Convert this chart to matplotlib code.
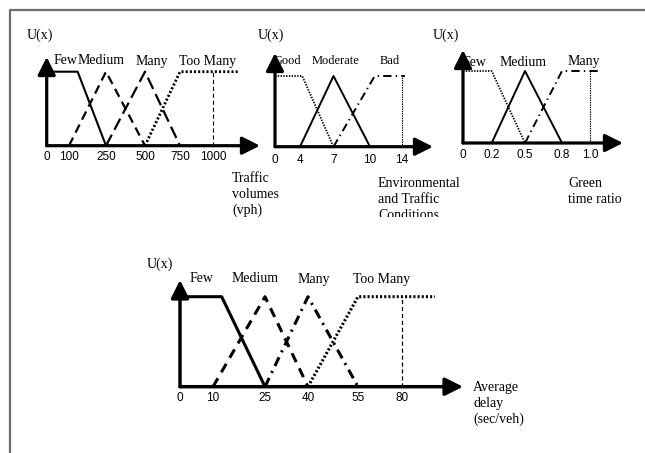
import numpy as np
import matplotlib
matplotlib.use('Agg')
import matplotlib.pyplot as plt
from matplotlib.patches import Rectangle

# ---- data ----
vol_ticks = [0, 100, 250, 500, 750, 1000]
vol_tick_labels = ['0', '100', '250', '500', '750', '1000']
vol_sets = ['Few', 'Medium', 'Many', 'Too Many']
vol_x = [[0, 135, 250], [100, 250, 500], [250, 500, 750], [500, 750, 1200]]
vol_u = [[1, 1, 0], [0, 1, 0], [0, 1, 0], [0, 1, 1]]
vol_limit = 1000
vol_title = 'Traffic\nvolumes\n(vph)'

env_ticks = [0, 4, 7, 10, 14]
env_tick_labels = ['0', '4', '7', '10', '14']
env_sets = ['Good', 'Moderate', 'Bad']
env_x = [[0, 4.2, 7], [4, 7, 10], [7, 10.6, 14.4]]
env_u = [[1, 1, 0], [0, 1, 0], [0, 1, 1]]
env_limit = 14
env_title = 'Environmental\nand Traffic\nConditions'

gtr_ticks = [0, 0.2, 0.5, 0.8, 1.0]
gtr_tick_labels = ['0', '0.2', '0.5', '0.8', '1.0']
gtr_sets = ['Few', 'Medium', 'Many']
gtr_x = [[0, 0.2, 0.5], [0.2, 0.5, 0.8], [0.5, 0.8, 1.07]]
gtr_u = [[1, 1, 0], [0, 1, 0], [0, 1, 1]]
gtr_limit = 1.0
gtr_title = 'Green\ntime ratio'

delay_ticks = [0, 10, 25, 40, 55, 80]
delay_tick_labels = ['0', '10', '25', '40', '55', '80']
delay_sets = ['Few', 'Medium', 'Many', 'Too Many']
delay_x = [[0, 12.5, 25], [10, 25, 40], [25, 40, 55], [40, 55, 99]]
delay_u = [[1, 1, 0], [0, 1, 0], [0, 1, 0], [0, 1, 1]]
delay_limit = 80
delay_title = 'Average\ndelay\n(sec/veh)'

# ---- layout ----
W, H = 645, 453
plt.rcParams['lines.scale_dashes'] = False
SERIF = 'Liberation Serif'
SANS = 'Liberation Sans'

fig = plt.figure(figsize=(W / 100, H / 100), dpi=100)
bg = fig.add_axes([0, 0, 1, 1])
bg.set_xlim(0, W)
bg.set_ylim(H, 0)
bg.axis('off')
bg.plot([10, 10, W], [H, 10, 10], color='#6d6d6d', lw=1.6)


def piecewise(vals, px):
    vals = np.asarray(vals, float)
    px = np.asarray(px, float)

    def mk(a, b):
        def f(x):
            x = np.asarray(x, float)
            y = np.interp(x, a, b)
            y = np.where(x > a[-1], b[-1] + (x - a[-1]) * (b[-1] - b[-2]) / (a[-1] - a[-2]), y)
            y = np.where(x < a[0], b[0] + (x - a[0]) * (b[1] - b[0]) / (a[1] - a[0]), y)
            return y
        return f
    return mk(vals, px), mk(px, vals)


def panel(ticks, labels, tick_px, x0, xtip, ybase, ytop, yplat,
          xs, us, styles, limit, limit_style, axis_lw, pad):
    fwd, inv = piecewise(ticks, tick_px)
    ax = fig.add_axes([x0 / W, 1 - ybase / H, (xtip - x0) / W, (ybase - ytop) / H])
    ax.set_xscale('function', functions=(fwd, inv))
    ax.set_xlim(float(inv(x0)), float(inv(xtip)))
    ax.set_ylim(0, (ybase - ytop) / (ybase - yplat))
    for x, u, (lw, dash) in zip(xs, us, styles):
        line, = ax.plot(x, u, color='k', lw=lw, solid_capstyle='butt', clip_on=False)
        if dash is not None:
            line.set_dashes(dash)
    lw, dash = limit_style
    line, = ax.plot([limit, limit], [0, 1], color='k', lw=lw)
    line.set_dashes(dash)
    arrow = dict(arrowstyle='-|>,head_length=0.9,head_width=0.45', mutation_scale=12,
                 lw=axis_lw, color='k', shrinkA=0, shrinkB=0)
    ax.annotate('', xy=(1, 0), xytext=(0, 0), xycoords='axes fraction',
                textcoords='axes fraction', arrowprops=arrow)
    ax.annotate('', xy=(0, 1), xytext=(0, 0), xycoords='axes fraction',
                textcoords='axes fraction', arrowprops=arrow)
    ax.set_xticks(ticks, labels)
    ax.set_yticks([])
    ax.tick_params(axis='x', length=0, pad=pad, labelsize=8.5)
    for t in ax.get_xticklabels():
        t.set_family(SANS)
    for s in ax.spines.values():
        s.set_visible(False)
    ax.patch.set_alpha(0)
    return ax


def txt(x, y, s, size=10, va='center', ls=1.2, **kw):
    return bg.text(x, y, s, family=SERIF, fontsize=size, va=va, ha='left',
                   linespacing=ls, **kw)


# panel 1: traffic volumes
panel(vol_ticks, vol_tick_labels, [46.7, 69, 106, 145, 180, 213],
      46.7, 260, 145.7, 57, 71.7, vol_x, vol_u,
      [(1.5, None), (1.6, (6.5, 4)), (1.6, (9, 4)), (2.0, (1.5, 1.5))],
      vol_limit, (0.8, (3, 2)), 2.3, 3.5)
for s, x in zip(vol_sets, [54, 78, 136, 179]):
    txt(x, 61, s)
txt(27, 35, 'U(x)')
txt(232, 172, vol_title, va='top', ls=1.25)

# panel 2: environmental conditions
panel(env_ticks, env_tick_labels, [275, 300, 333.5, 370, 401.7],
      275, 433, 146.7, 53, 76, env_x, env_u,
      [(1.3, (1, 1)), (1.4, None), (1.4, (6, 3, 1, 3))],
      env_limit, (0.8, (1, 0.7)), 2.3, 5)
for s, x in zip(env_sets, [273, 312, 380]):
    txt(x, 61, s, 9)
txt(258, 35, 'U(x)')
t = txt(378, 177, env_title, va='top', ls=1.3)
t.set_clip_path(Rectangle((0, 0), W, 217, transform=bg.transData))
t.set_clip_on(True)

# panel 3: green time ratio
panel(gtr_ticks, gtr_tick_labels, [463, 491.7, 525, 562, 590],
      463, 623, 143, 50, 71, gtr_x, gtr_u,
      [(1.3, (1, 1)), (1.4, None), (1.4, (6, 3, 1, 3))],
      gtr_limit, (0.8, (1, 0.7)), 2.3, 4)
for s, x in zip(gtr_sets, [463, 500, 568]):
    txt(x, 62, s)
txt(433, 35, 'U(x)')
txt(568, 177, gtr_title, va='top', ls=1.3)

# panel 4: average delay
panel(delay_ticks, delay_tick_labels, [180, 213, 265, 308, 358, 401.7],
      180, 463, 386.7, 280, 296.7, delay_x, delay_u,
      [(2.2, None), (2.2, (7, 5)), (2.2, (7, 4, 1.5, 4)), (2.2, (1.5, 1.5))],
      delay_limit, (0.9, (3, 2)), 2.5, 4)
for s, x in zip(delay_sets, [190, 232, 298, 353]):
    txt(x, 279, s)
txt(147, 264, 'U(x)')
txt(473, 381, delay_title, va='top', ls=1.25)

fig.savefig('out.png', dpi=100)
